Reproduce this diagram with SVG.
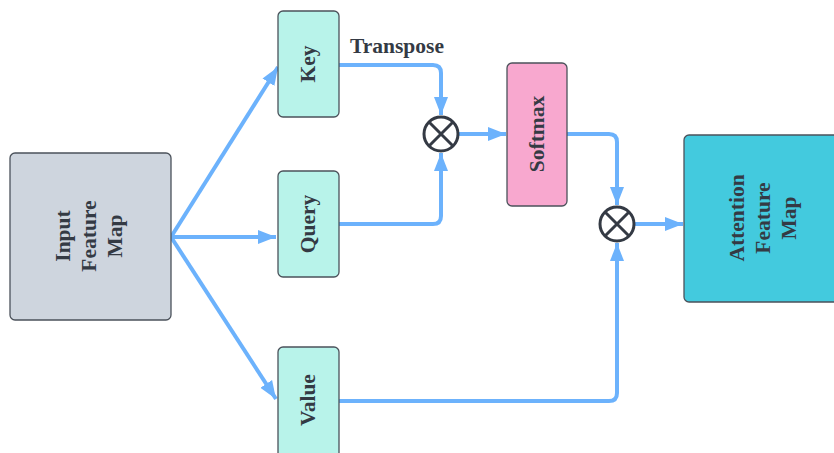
<svg xmlns="http://www.w3.org/2000/svg" width="834" height="453" viewBox="0 0 834 453">
<style>
.box{stroke:#4b525b;stroke-width:1.3}
.lbl{font-family:"Liberation Serif",serif;font-weight:bold;font-size:21.5px;fill:#343a44;text-anchor:middle}
.conn{fill:none;stroke:#6cb2fc;stroke-width:4;stroke-linejoin:round}
.op{fill:#fff;stroke:#343a44;stroke-width:3}
</style>
<defs>
<marker id="ah" markerUnits="userSpaceOnUse" markerWidth="20" markerHeight="16" viewBox="0 0 20 16" refX="18" refY="8" orient="auto">
<path d="M0,1 L18,8 L0,15 Z" fill="#6cb2fc"/>
</marker>
</defs>
<rect width="834" height="453" fill="#fff"/>
<g id="connectors">
<path class="conn" d="M171,237 L278,67" marker-end="url(#ah)"/>
<path class="conn" d="M171,237 L276,237" marker-end="url(#ah)"/>
<path class="conn" d="M171,237 L276,399" marker-end="url(#ah)"/>
<path class="conn" d="M339,65 L433,65 Q441,65 441,73 L441,115" marker-end="url(#ah)"/>
<path class="conn" d="M339,224 L433,224 Q441,224 441,216 L441,153" marker-end="url(#ah)"/>
<path class="conn" d="M459,134 L506,134" marker-end="url(#ah)"/>
<path class="conn" d="M567,134 L609,134 Q617,134 617,142 L617,205" marker-end="url(#ah)"/>
<path class="conn" d="M339,401 L609,401 Q617,401 617,393 L617,243" marker-end="url(#ah)"/>
<path class="conn" d="M635,224 L683,224" marker-end="url(#ah)"/>
<text class="lbl" x="397" y="53">Transpose</text>
</g>
<g id="input">
<rect class="box" x="10" y="153" width="161" height="167" rx="5" fill="#ced5de"/>
<text class="lbl" transform="translate(90,236) rotate(-90)"><tspan x="0" y="-20">Input</tspan><tspan x="0" y="6">Feature</tspan><tspan x="0" y="32">Map</tspan></text>
</g>
<g id="key">
<rect class="box" x="278" y="11" width="61" height="106" rx="5" fill="#b8f3ea"/>
<text class="lbl" transform="translate(315,64) rotate(-90)">Key</text>
</g>
<g id="query">
<rect class="box" x="278" y="171" width="61" height="106" rx="5" fill="#b8f3ea"/>
<text class="lbl" transform="translate(315,224) rotate(-90)">Query</text>
</g>
<g id="value">
<rect class="box" x="278" y="347" width="61" height="115" rx="5" fill="#b8f3ea"/>
<text class="lbl" transform="translate(315,400) rotate(-90)">Value</text>
</g>
<g id="mul1">
<circle class="op" cx="441" cy="134" r="17"/>
<path class="op" d="M429,122 L453,146 M453,122 L429,146"/>
</g>
<g id="softmax">
<rect class="box" x="507" y="63" width="60" height="143" rx="5" fill="#f8a8cf"/>
<text class="lbl" transform="translate(544,134) rotate(-90)">Softmax</text>
</g>
<g id="mul2">
<circle class="op" cx="617" cy="224" r="17"/>
<path class="op" d="M605,212 L629,236 M629,212 L605,236"/>
</g>
<g id="attention">
<rect class="box" x="684" y="135" width="160" height="167" rx="5" fill="#43cade"/>
<text class="lbl" transform="translate(763,218) rotate(-90)"><tspan x="0" y="-19">Attention</tspan><tspan x="0" y="7">Feature</tspan><tspan x="0" y="33">Map</tspan></text>
</g>
</svg>
